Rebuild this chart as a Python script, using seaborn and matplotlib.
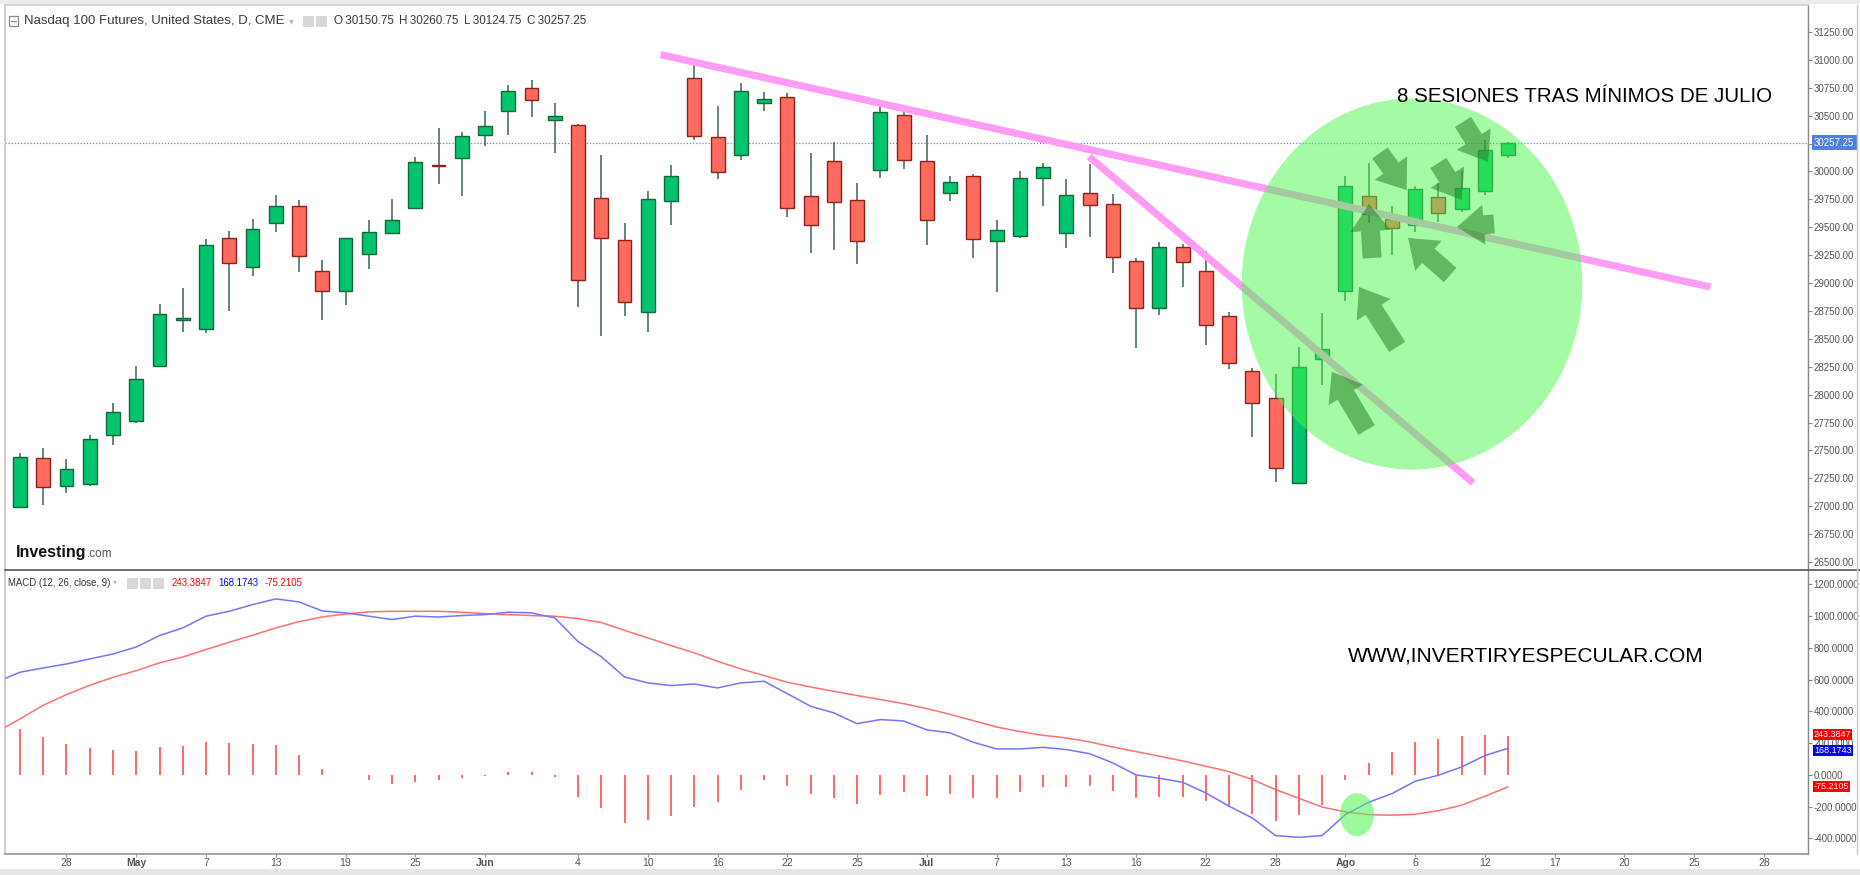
import numpy as np
import matplotlib
matplotlib.use("Agg")
import matplotlib.pyplot as plt
import seaborn as sns
from matplotlib.patches import Ellipse, FancyArrow, Rectangle
from matplotlib.transforms import IdentityTransform, blended_transform_factory, ScaledTranslation
from matplotlib.lines import Line2D

# ---------------- data ----------------
opens = [26990, 27434, 27185, 27200, 27643, 27763, 28256, 28668, 28590, 29406,
         29146, 29540, 29692, 29107, 28928, 29260, 29448, 29675, 30060, 30120,
         30329, 30544, 30750, 30457, 30415, 29761, 29388, 28737, 29740, 30837,
         30308, 30144, 30613, 30666, 29779, 30093, 29746, 30012, 30505, 30093,
         29806, 29964, 29376, 29418, 29943, 29448, 29806, 29710, 29197, 28779,
         29319, 29104, 28704, 28211, 27969, 27207, 28321, 28931, 29782, 29573,
         29519, 29770, 29663, 29824, 30150.75]
highs = [27475, 27524, 27425, 27635, 27927, 28256, 28809, 28958, 29397, 29466,
         29576, 29791, 29749, 29203, 29406, 29564, 29758, 30126, 30386, 30356,
         30541, 30771, 30816, 30613, 30424, 30144, 29540, 29827, 30060, 30977,
         30589, 30792, 30711, 30702, 30165, 30263, 29896, 30598, 30559, 30323,
         29961, 29976, 29564, 30003, 30075, 29931, 30066, 29797, 29224, 29367,
         29349, 29290, 28740, 28238, 28187, 28423, 28731, 29961, 30075, 29690,
         29872, 29893, 30006, 30284, 30260.75]
lows = [26985, 27015, 27120, 27185, 27548, 27748, 28250, 28564, 28555, 28749,
        29062, 29460, 29101, 28668, 28808, 29122, 29445, 29670, 29890, 29779,
        30227, 30326, 30487, 30162, 28790, 28522, 28701, 28558, 29522, 30284,
        29931, 30105, 30544, 29588, 29274, 29298, 29170, 29940, 30021, 29337,
        29732, 29224, 28922, 29400, 29687, 29316, 29409, 29089, 28417, 28713,
        28964, 28441, 28229, 27620, 27220, 27200, 28088, 28841, 29537, 29250,
        29460, 29543, 29636, 29788, 30124.75]
closes = [27443, 27175, 27335, 27604, 27843, 28142, 28725, 28690, 29343, 29176,
          29486, 29692, 29241, 28928, 29400, 29460, 29567, 30081, 30052, 30314,
          30410, 30720, 30640, 30496, 29029, 29400, 28835, 29752, 29958, 30314,
          29997, 30720, 30649, 29669, 29519, 29725, 29376, 30529, 30099, 29561,
          29905, 29394, 29474, 29943, 30036, 29788, 29698, 29232, 28779, 29319,
          29188, 28620, 28283, 27924, 27345, 28244, 28408, 29866, 29618, 29492,
          29842, 29627, 29854, 30191, 30257.25]

# MACD (12, 26, close, 9): first value belongs to the session before the first candle
macd_line = [586, 647, 674, 699, 731, 762, 806, 878, 926, 1000, 1031, 1073, 1109,
             1090, 1033, 1021, 1000, 979, 1000, 995, 1004, 1010, 1025, 1021, 989,
             840, 745, 617, 580, 563, 573, 548, 580, 590, 512, 433, 391, 323, 349,
             340, 284, 265, 206, 164, 164, 174, 160, 134, 76, 0, -21, -46, -113,
             -197, -271, -382, -393, -382, -250, -172, -118, -40, -2, 50, 122,
             168.1743]
signal_line = [271, 353, 439, 506, 565, 615, 657, 706, 743, 790, 836, 880, 926,
               966, 995, 1014, 1027, 1031, 1031, 1031, 1025, 1016, 1010, 1004,
               1000, 985, 960, 911, 863, 815, 769, 716, 668, 626, 584, 554, 527,
               500, 475, 449, 418, 382, 342, 302, 273, 250, 233, 208, 176, 147,
               118, 88, 55, 21, -29, -92, -147, -202, -233, -250, -254, -248,
               -225, -191, -134, -75.2105]
histogram = [290, 237, 197, 170, 155, 149, 176, 181, 206, 202, 197, 187, 126, 40,
             2, -29, -55, -42, -34, -21, -8, 21, 17, -10, -141, -210, -302, -286,
             -256, -202, -172, -92, -34, -71, -118, -143, -181, -126, -109, -134,
             -122, -143, -143, -109, -76, -76, -71, -101, -147, -137, -137, -166,
             -202, -244, -292, -250, -187, -29, 76, 143, 206, 227, 244, 250,
             243.3847]

tick_sessions = [2, 5, 8, 11, 14, 17, 20, 24, 27, 30, 33, 36, 39, 42, 45, 48, 51,
                 54, 57, 60, 63, 66, 69, 72, 75]
tick_labels = ["28", "May", "7", "13", "19", "25", "Jun", "4", "10", "16", "22",
               "25", "Jul", "7", "13", "16", "22", "28", "Ago", "6", "12", "17",
               "20", "25", "28"]
month_labels = {"May", "Jun", "Jul", "Ago"}

price_ticks = list(range(26500, 31251, 250))
macd_ticks = list(range(-400, 1201, 200))

last_price = 30257.25
ohlc_header = [("O", 30150.75), ("H", 30260.75), ("L", 30124.75), ("C", 30257.25)]

# drawn annotations (session index, price)
trend_upper = ([27.55, 72.7], [31047, 28965])
trend_lower = ([45.98, 62.5], [30133, 27209])
circle_center, circle_w, circle_h = (59.87, 28992), 14.65, 3325
arrows = [((57.92, 27684), (56.42, 28206)),
          ((59.23, 28428), (57.59, 28965)),
          ((58.15, 29225), (58.02, 29709)),
          ((58.49, 30166), (59.64, 29834)),
          ((61.51, 29073), (59.70, 29404)),
          ((61.00, 30076), (62.01, 29745)),
          ((62.06, 30444), (63.14, 30085)),
          ((63.40, 29530), (61.80, 29503))]
macd_mark_center, macd_mark_w, macd_mark_h = (57.5, -250), 1.46, 271

# ---------------- style ----------------
sns.set_theme(style="white")
plt.rcParams["font.family"] = ["Liberation Sans", "DejaVu Sans"]

W, H = 1860, 875
fig = plt.figure(figsize=(W / 100, H / 100), dpi=100)
fig.patch.set_facecolor("white")


def fx(px):
    return px / W


def fy(py):
    return 1 - py / H


left_px, right_px = 5, 1808
ax = fig.add_axes([fx(left_px), fy(570), (right_px - left_px) / W, (570 - 5) / H])
ax2 = fig.add_axes([fx(left_px), fy(854), (right_px - left_px) / W, (854 - 570) / H])

xlim = (-0.645, 76.9)
ax.set_xlim(*xlim)
ax2.set_xlim(*xlim)
ax.set_ylim(26429, 31492)
ax2.set_ylim(-498, 1291)

idx = np.arange(len(opens))
o = np.array(opens, float)
c = np.array(closes, float)
hi = np.array(highs, float)
lo = np.array(lows, float)
up = c >= o

green_fc, green_ec = "#00c46e", "#17653a"
red_fc, red_ec = "#ff6a5e", "#8e2020"

ax.vlines(idx, lo, hi, colors="#3a6450", linewidth=1.1, zorder=2)
bottoms = np.minimum(o, c)
heights = np.maximum(np.abs(c - o), 6)
ax.bar(idx, heights, bottom=bottoms, width=0.6,
       color=[green_fc if u else red_fc for u in up],
       edgecolor=[green_ec if u else red_ec for u in up],
       linewidth=1.0, zorder=3)

ax.axhline(last_price, color="#6a7fe6", linewidth=0.9, linestyle=(0, (1, 1.5)), zorder=1)

# trend lines
for xs, ys in (trend_upper, trend_lower):
    ax.plot(xs, ys, color="#ff9cf4", linewidth=5.2, solid_capstyle="butt", zorder=4)

# highlight circle
ax.add_patch(Ellipse(circle_center, circle_w, circle_h, facecolor="#4cf74c",
                     edgecolor="none", alpha=0.5, zorder=5))

# arrows in pixel space
for tail, head in arrows:
    tx, ty = ax.transData.transform(tail)
    hx, hy = ax.transData.transform(head)
    ax.add_patch(FancyArrow(tx, ty, hx - tx, hy - ty, width=19, head_width=40,
                            head_length=27, length_includes_head=True,
                            transform=IdentityTransform(), facecolor="#288228",
                            edgecolor="none", alpha=0.55, zorder=7))

# axes styling
for a in (ax, ax2):
    a.set_facecolor("white")
    a.yaxis.tick_right()
    a.tick_params(axis="y", which="both", direction="out", length=3, width=0.8,
                  color="#888", labelsize=7, labelcolor="#555", pad=1, right=True,
                  left=False)
    a.spines["right"].set_color("#888")
    a.spines["right"].set_linewidth(1)
    a.spines["left"].set_color("#c8c8c8")
    a.spines["top"].set_visible(False)
    a.spines["bottom"].set_visible(False)
    a.grid(False)

ax.set_yticks(price_ticks)
ax.set_yticklabels([f"{v:.2f}" for v in price_ticks])
ax.set_xticks([])
ax.spines["top"].set_visible(True)
ax.spines["top"].set_color("#cfcfd4")

ax2.set_yticks(macd_ticks)
ax2.set_yticklabels([f"{v:.4f}" for v in macd_ticks])
ax2.spines["bottom"].set_visible(True)
ax2.spines["bottom"].set_color("#9a9a9a")
ax2.set_xticks(tick_sessions)
ax2.set_xticklabels(tick_labels)
ax2.tick_params(axis="x", direction="out", length=2, width=0.8, color="#999",
                labelsize=7.5, labelcolor="#555", pad=1, bottom=True)
for lab in ax2.get_xticklabels():
    if lab.get_text() in month_labels:
        lab.set_fontweight("bold")

# MACD panel
hist_idx = np.arange(len(histogram))
ax2.vlines(hist_idx, 0, histogram, colors="#ff5a5a", linewidth=1.3, zorder=2)
macd_x = np.arange(-1, len(macd_line) - 1)
sns.lineplot(x=macd_x, y=signal_line, ax=ax2, color="#ff7070", linewidth=1.1, zorder=3)
sns.lineplot(x=macd_x, y=macd_line, ax=ax2, color="#7474ff", linewidth=1.1, zorder=4)
ax2.add_patch(Ellipse(macd_mark_center, macd_mark_w, macd_mark_h, facecolor="#4cf74c",
                      edgecolor="none", alpha=0.55, zorder=5))
ax2.set_xlim(*xlim)
ax2.set_ylim(-498, 1291)
ax2.set_xlabel("")
ax2.set_ylabel("")

# value boxes on the axes
bt = blended_transform_factory(ax.transAxes, ax.transData)
lab_x = 1 + (1814 - 1808) / (right_px - left_px)
ax.text(lab_x, last_price, f"{last_price:.2f}", transform=bt, ha="left", va="center",
        fontsize=7, color="white", zorder=10, clip_on=False,
        bbox=dict(boxstyle="square,pad=0.25", fc="#4f80e1", ec="none"))
bt2 = blended_transform_factory(ax2.transAxes, ax2.transData)
label_shift = {0: 1.5, 1: -1.5, 2: 0}
for k, (val, col) in enumerate(((histogram[-1], "#ff0000"), (macd_line[-1], "#0000ff"),
                                (signal_line[-1], "#ff0000"))):
    tr = bt2 + ScaledTranslation(0, label_shift[k] / 72, fig.dpi_scale_trans)
    ax2.text(lab_x, val, f"{val:.4f}", transform=tr, ha="left", va="center",
             fontsize=6.5, color="white", zorder=10, clip_on=False,
             bbox=dict(boxstyle="square,pad=0.1", fc=col, ec="none"))

# ---------------- figure decorations ----------------
fig.patches.append(Rectangle((0, fy(4)), 1, 4 / H, transform=fig.transFigure,
                             facecolor="#ececf0", edgecolor="none", zorder=0))
fig.patches.append(Rectangle((0, 0), 1, 6 / H, transform=fig.transFigure,
                             facecolor="#e6e6ea", edgecolor="none", zorder=0))
fig.lines.append(Line2D([fx(left_px), 1], [fy(570), fy(570)], transform=fig.transFigure,
                        color="#555", linewidth=1.2))
fig.lines.append(Line2D([fx(1857), fx(1857)], [fy(854), fy(5)], transform=fig.transFigure,
                        color="#c8c8c8", linewidth=1))

# header
fig.patches.append(Rectangle((fx(9), fy(26)), 9 / W, 10 / H, transform=fig.transFigure,
                             facecolor="white", edgecolor="#8a8a8a", linewidth=0.9))
fig.lines.append(Line2D([fx(11), fx(16)], [fy(21), fy(21)], transform=fig.transFigure,
                        color="#8a8a8a", linewidth=0.9))
fig.text(fx(24), fy(21), "Nasdaq 100 Futures, United States, D, CME", fontsize=9.5,
         color="#3a3a3a", va="center", ha="left")
fig.text(fx(289), fy(21), "▾", fontsize=7, color="#bbbbbb", va="center", ha="left")
for x0 in (303, 316):
    fig.patches.append(Rectangle((fx(x0), fy(27)), 11 / W, 11 / H, transform=fig.transFigure,
                                 facecolor="#d8d8d8", edgecolor="none"))
for x0, (letter, val) in zip((334, 399, 464, 527), ohlc_header):
    fig.text(fx(x0), fy(21), f"{letter}\u2009{val:.2f}", fontsize=8.4, color="#3a3a3a",
             va="center", ha="left")

# MACD header
fig.text(fx(8), fy(583), "MACD (12, 26, close, 9)", fontsize=6.9, color="#333",
         va="center", ha="left")
fig.text(fx(113), fy(583), "▾", fontsize=5.5, color="#bbbbbb", va="center", ha="left")
for x0 in (127, 140, 153):
    fig.patches.append(Rectangle((fx(x0), fy(589)), 11 / W, 11 / H, transform=fig.transFigure,
                                 facecolor="#d8d8d8", edgecolor="none"))
for x0, val, col in ((172, histogram[-1], "#ff0000"), (218, macd_line[-1], "#0000ff"),
                     (265, signal_line[-1], "#ff0000")):
    fig.text(fx(x0), fy(583), f"{val:.4f}", fontsize=6.9, color=col, va="center", ha="left")

# Investing logo
fig.text(fx(16), fy(557), "Investing", fontsize=11.5, fontweight="bold", color="#111",
         va="baseline", ha="left")
fig.text(fx(87), fy(557), ".com", fontsize=8.5, color="#555", va="baseline", ha="left")

# annotations text
fig.text(fx(1397), fy(96), "8 SESIONES TRAS MÍNIMOS DE JULIO", fontsize=14.8,
         color="black", va="center", ha="left")
fig.text(fx(1348), fy(656), "WWW,INVERTIRYESPECULAR.COM", fontsize=15,
         color="black", va="center", ha="left")

fig.savefig("out.png", dpi=100, facecolor="white")
